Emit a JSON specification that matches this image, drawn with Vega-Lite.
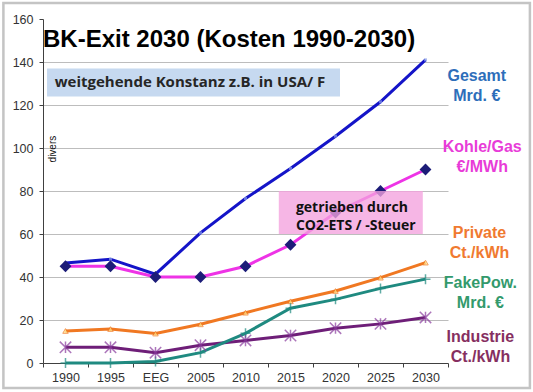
{
  "$schema": "https://vega.github.io/schema/vega-lite/v6.json",
  "width": 405,
  "height": 344,
  "autosize": "none",
  "padding": {"left": 43, "top": 19, "right": 85, "bottom": 29},
  "background": "white",
  "config": {"view": {"stroke": null}, "font": "Liberation Sans"},
  "datasets": {
    "series": [
      {"t": "1990", "s": "Industrie", "v": 7.3}, {"t": "1995", "s": "Industrie", "v": 7.3}, {"t": "EEG", "s": "Industrie", "v": 4.8}, {"t": "2005", "s": "Industrie", "v": 8.3}, {"t": "2010", "s": "Industrie", "v": 10.5}, {"t": "2015", "s": "Industrie", "v": 12.8}, {"t": "2020", "s": "Industrie", "v": 16.2}, {"t": "2025", "s": "Industrie", "v": 18.2}, {"t": "2030", "s": "Industrie", "v": 21.2},
      {"t": "1990", "s": "FakePow", "v": 0}, {"t": "1995", "s": "FakePow", "v": 0}, {"t": "EEG", "s": "FakePow", "v": 0.7}, {"t": "2005", "s": "FakePow", "v": 4.8}, {"t": "2010", "s": "FakePow", "v": 13.8}, {"t": "2015", "s": "FakePow", "v": 25.5}, {"t": "2020", "s": "FakePow", "v": 29.6}, {"t": "2025", "s": "FakePow", "v": 34.7}, {"t": "2030", "s": "FakePow", "v": 39},
      {"t": "1990", "s": "Private", "v": 14.9}, {"t": "1995", "s": "Private", "v": 15.8}, {"t": "EEG", "s": "Private", "v": 13.7}, {"t": "2005", "s": "Private", "v": 18}, {"t": "2010", "s": "Private", "v": 23.4}, {"t": "2015", "s": "Private", "v": 28.7}, {"t": "2020", "s": "Private", "v": 33.5}, {"t": "2025", "s": "Private", "v": 39.7}, {"t": "2030", "s": "Private", "v": 46.7},
      {"t": "1990", "s": "Kohle/Gas", "v": 45}, {"t": "1995", "s": "Kohle/Gas", "v": 45}, {"t": "EEG", "s": "Kohle/Gas", "v": 40}, {"t": "2005", "s": "Kohle/Gas", "v": 40}, {"t": "2010", "s": "Kohle/Gas", "v": 45}, {"t": "2015", "s": "Kohle/Gas", "v": 55}, {"t": "2020", "s": "Kohle/Gas", "v": 70}, {"t": "2025", "s": "Kohle/Gas", "v": 80}, {"t": "2030", "s": "Kohle/Gas", "v": 90},
      {"t": "1990", "s": "Gesamt", "v": 46.5}, {"t": "1995", "s": "Gesamt", "v": 48.3}, {"t": "EEG", "s": "Gesamt", "v": 41.3}, {"t": "2005", "s": "Gesamt", "v": 60.5}, {"t": "2010", "s": "Gesamt", "v": 76.5}, {"t": "2015", "s": "Gesamt", "v": 90.5}, {"t": "2020", "s": "Gesamt", "v": 105.5}, {"t": "2025", "s": "Gesamt", "v": 121.5}, {"t": "2030", "s": "Gesamt", "v": 141}
    ],
    "boxes": [
      {"name": "usa", "x": 1987.95, "x2": 2020.5, "y": 124, "y2": 137},
      {"name": "co2", "x": 2013.7, "x2": 2029.7, "y": 60, "y2": 80},
      {"name": "frame", "x": 1983.1, "x2": 2041.6, "y": -11.6, "y2": 167.4}
    ],
    "notes": [
      {"name": "title", "x": 1987.5, "y": 147, "text": "BK-Exit 2030 (Kosten 1990-2030)"},
      {"name": "usa", "x": 1988.8, "y": 130.7, "text": "weitgehende Konstanz z.B. in USA/ F"},
      {"name": "co2a", "x": 2015.6, "y": 72.3, "text": "getrieben durch"},
      {"name": "co2b", "x": 2015.6, "y": 63.9, "text": "CO2-ETS / -Steuer"},
      {"name": "divers", "x": 1988.6, "y": 99.5, "text": "divers"}
    ],
    "labels": [
      {"s": "Gesamt", "x": 2035.7, "y": 133.5, "text": "Gesamt\nMrd. €"},
      {"s": "Kohle/Gas", "x": 2036.3, "y": 100.5, "text": "Kohle/Gas\n€/MWh"},
      {"s": "Private", "x": 2036.0, "y": 60.5, "text": "Private\nCt./kWh"},
      {"s": "FakePow", "x": 2036.1, "y": 37.2, "text": "FakePow.\nMrd. €"},
      {"s": "Industrie", "x": 2036.1, "y": 12.1, "text": "Industrie\nCt./kWh"}
    ]
  },
  "layer": [
    {
      "data": {"name": "series"},
      "encoding": {
        "x": {"field": "t", "type": "ordinal", "sort": null, "bandPosition": 0.5,
              "scale": {"type": "band", "paddingInner": 0, "paddingOuter": 0},
              "axis": {"title": null, "labelAngle": 0, "tickBand": "extent", "tickSize": 4, "tickColor": "#404040", "domainColor": "#404040", "labelColor": "#333333", "labelFont": "Liberation Sans", "labelFontSize": 12.5, "labelPadding": 4, "grid": false}},
        "y": {"field": "v", "type": "quantitative", "scale": {"domain": [0, 160], "nice": false, "zero": true},
              "axis": {"title": null, "values": [0, 20, 40, 60, 80, 100, 120, 140, 160], "grid": true, "gridColor": "#BDBDBD", "gridOpacity": {"condition": {"test": "datum.value === 160 || datum.value === 0", "value": 0}, "value": 1}, "tickSize": 4, "tickColor": "#404040", "domainColor": "#404040", "labelColor": "#333333", "labelFont": "Liberation Sans", "labelFontSize": 12.5, "labelPadding": 6}}
      },
      "layer": [
        {"mark": {"type": "line", "strokeWidth": 3},
         "encoding": {"color": {"field": "s", "type": "nominal", "legend": null,
           "scale": {"domain": ["Industrie", "FakePow", "Private", "Kohle/Gas", "Gesamt"], "range": ["#6E1E78", "#1F8A80", "#F07822", "#EE33E6", "#1414C8"]}}}},
        {"transform": [{"filter": "datum.s === 'Gesamt'"}], "mark": {"type": "point", "shape": "square", "filled": true, "size": 9, "color": "#8AA0E8"}},
        {"transform": [{"filter": "datum.s === 'Private'"}], "mark": {"type": "point", "shape": "triangle-up", "filled": true, "size": 30, "fill": "#FFE98A", "stroke": "#F07822", "strokeWidth": 1}},
        {"transform": [{"filter": "datum.s === 'FakePow'"}], "mark": {"type": "point", "shape": "M-1,0L1,0M0,-1L0,1", "filled": false, "size": 100, "stroke": "#1F8A80", "strokeWidth": 1.5}},
        {"transform": [{"filter": "datum.s === 'Industrie'"}], "mark": {"type": "point", "shape": "M-1,-1L1,1M-1,1L1,-1M0,-1L0,1", "filled": false, "size": 130, "stroke": "#8A3C9E", "strokeWidth": 1.5}},
        {"transform": [{"filter": "datum.s === 'Kohle/Gas'"}], "mark": {"type": "point", "shape": "diamond", "filled": true, "size": 140, "color": "#1C1C78", "opacity": 1}}
      ]
    },
    {
      "encoding": {
        "x": {"field": "x", "type": "quantitative", "scale": {"domain": [1987.5, 2032.5], "nice": false, "zero": false}, "axis": null},
        "y": {"field": "y", "type": "quantitative", "scale": {"domain": [0, 160], "nice": false, "zero": true}}
      },
      "layer": [
        {"data": {"name": "boxes"}, "transform": [{"filter": "datum.name === 'usa'"}], "mark": {"type": "rect", "color": "#C6D9F0"}, "encoding": {"x2": {"field": "x2"}, "y2": {"field": "y2"}}},
        {"data": {"name": "boxes"}, "transform": [{"filter": "datum.name === 'co2'"}], "mark": {"type": "rect", "color": "#F3A2DE", "opacity": 0.78}, "encoding": {"x2": {"field": "x2"}, "y2": {"field": "y2"}}},
        {"data": {"name": "boxes"}, "transform": [{"filter": "datum.name === 'frame'"}], "mark": {"type": "rect", "filled": false, "fill": null, "stroke": "#C4C4C4", "strokeWidth": 2.5}, "encoding": {"x2": {"field": "x2"}, "y2": {"field": "y2"}}},
        {"data": {"name": "notes"}, "transform": [{"filter": "datum.name === 'title'"}], "mark": {"type": "text", "align": "left", "baseline": "alphabetic", "font": "Liberation Sans", "fontWeight": "bold", "fontSize": 24, "color": "#000000"}, "encoding": {"text": {"field": "text"}}},
        {"data": {"name": "notes"}, "transform": [{"filter": "datum.name === 'usa'"}], "mark": {"type": "text", "align": "left", "baseline": "middle", "font": "Open Sans", "fontWeight": "bold", "fontSize": 15, "color": "#262626"}, "encoding": {"text": {"field": "text"}}},
        {"data": {"name": "notes"}, "transform": [{"filter": "datum.name === 'co2a' || datum.name === 'co2b'"}], "mark": {"type": "text", "align": "left", "baseline": "middle", "font": "Open Sans", "fontWeight": "bold", "fontSize": 14, "color": "#111111"}, "encoding": {"text": {"field": "text"}}},
        {"data": {"name": "notes"}, "transform": [{"filter": "datum.name === 'divers'"}], "mark": {"type": "text", "align": "center", "baseline": "middle", "angle": 270, "font": "Liberation Sans", "fontSize": 10, "color": "#111111"}, "encoding": {"text": {"field": "text"}}},
        {"data": {"name": "labels"}, "mark": {"type": "text", "align": "center", "baseline": "middle", "lineBreak": "\n", "lineHeight": 20, "font": "Liberation Sans", "fontWeight": "bold", "fontSize": 16},
         "encoding": {"text": {"field": "text"}, "color": {"field": "s", "type": "nominal", "legend": null,
           "scale": {"domain": ["Gesamt", "Kohle/Gas", "Private", "FakePow", "Industrie"], "range": ["#2E6EBA", "#E83CD8", "#F07A30", "#339A6C", "#862F60"]}}}}
      ]
    }
  ],
  "resolve": {"scale": {"x": "independent", "color": "independent"}}
}
